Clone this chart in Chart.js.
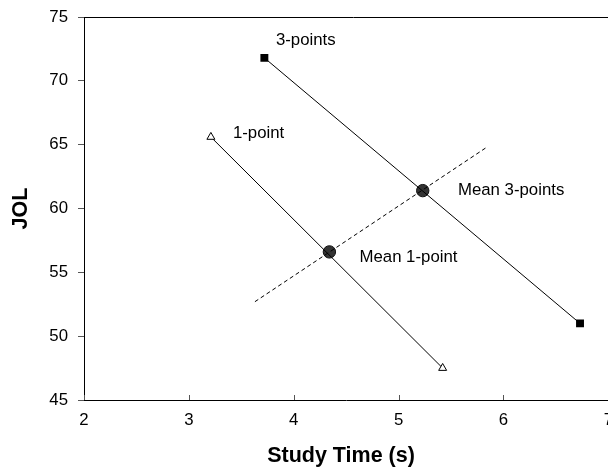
<!DOCTYPE html>
<html>
<head>
<meta charset="utf-8">
<script src="https://cdn.jsdelivr.net/npm/chart.js@4.4.1/dist/chart.umd.min.js"></script>
<style>
    html, body { margin: 0; padding: 0; background: #fff; overflow: hidden; }
    #wrap { width: 623px; height: 469px; position: relative; }
</style>
</head>
<body>
<div id="wrap"><canvas id="jolChart"></canvas></div>
<script>
// values
const onePoint = [{ x: 3.21, y: 65.6 }, { x: 5.42, y: 47.5 }];
const threePoints = [{ x: 3.72, y: 71.8 }, { x: 6.73, y: 51.0 }];
const meanLine = [{ x: 3.63, y: 52.7 }, { x: 5.85, y: 64.85 }];
const meanPoints = [{ x: 4.34, y: 56.6 }, { x: 5.23, y: 61.4 }];

const xTicks = [2, 3, 4, 5, 6, 7];
const yTicks = [45, 50, 55, 60, 65, 70, 75];

// text labels, anchored in data units (left edge, middle)
const noteText = ['3-points', '1-point', 'Mean 3-points', 'Mean 1-point'];
const noteX = [3.83, 3.42, 5.566, 4.627];
const noteY = [73.2, 65.9, 61.4, 56.2];

const FONT = '"Liberation Sans", Arial, sans-serif';

// inner x ticks, top frame line and the text notes
const extrasPlugin = {
    id: 'extras',
    afterDraw(chart) {
        const { ctx, chartArea, scales } = chart;
        const xs = scales.x, ys = scales.y;
        ctx.save();
        ctx.strokeStyle = '#000';
        ctx.lineWidth = 1;
        ctx.beginPath();
        ctx.moveTo(chartArea.left, Math.round(chartArea.top) + 0.5);
        ctx.lineTo(chart.width, Math.round(chartArea.top) + 0.5);
        ctx.stroke();

        ctx.strokeStyle = '#555';
        xTicks.forEach(v => {
            const px = Math.round(xs.getPixelForValue(v)) + 0.5;
            ctx.beginPath();
            ctx.moveTo(px, chartArea.bottom);
            ctx.lineTo(px, chartArea.bottom - 5);
            ctx.stroke();
        });

        ctx.fillStyle = '#000';
        ctx.font = '16.8px ' + FONT;
        ctx.textAlign = 'left';
        ctx.textBaseline = 'middle';
        noteText.forEach((t, i) => {
            ctx.fillText(t, xs.getPixelForValue(noteX[i]), ys.getPixelForValue(noteY[i]));
        });

        // x axis title, centred a little left of the (clipped) plot area as in the figure
        ctx.font = 'bold 21.5px ' + FONT;
        ctx.textAlign = 'center';
        ctx.fillText('Study Time (s)', 341, chart.height - 12.9);
        ctx.restore();
    }
};

const ctx = document.getElementById('jolChart').getContext('2d');
new Chart(ctx, {
    type: 'scatter',
    data: {
        datasets: [
            {
                data: meanLine,
                showLine: true,
                borderColor: '#000',
                borderWidth: 1,
                borderDash: [4, 3],
                pointRadius: 0
            },
            {
                data: onePoint,
                showLine: true,
                borderColor: '#000',
                borderWidth: 1,
                pointStyle: 'triangle',
                pointRadius: 4.6,
                pointBackgroundColor: '#fff',
                pointBorderColor: '#000',
                pointBorderWidth: 1
            },
            {
                data: threePoints,
                showLine: true,
                borderColor: '#000',
                borderWidth: 1,
                pointStyle: 'rect',
                pointRadius: 5.6,
                pointBackgroundColor: '#000',
                pointBorderColor: '#000',
                pointBorderWidth: 0
            },
            {
                data: meanPoints,
                showLine: false,
                pointStyle: 'circle',
                pointRadius: 6.2,
                pointBackgroundColor: '#333',
                pointBorderColor: '#111',
                pointBorderWidth: 1
            }
        ]
    },
    options: {
        responsive: true,
        maintainAspectRatio: false,
        animation: false,
        layout: { padding: { top: 17, right: 0, left: 0, bottom: 0 } },
        plugins: {
            legend: { display: false },
            tooltip: { enabled: false }
        },
        scales: {
            x: {
                type: 'linear',
                min: 2,
                max: 7,
                afterBuildTicks: s => { s.ticks = xTicks.map(v => ({ value: v })); },
                afterFit: s => { s.height = 69; },
                grid: { display: true, drawOnChartArea: false, drawTicks: false },
                border: { color: '#000', width: 1 },
                ticks: { padding: 10, color: '#000', font: { family: FONT, size: 16.8 } },
                title: { display: false }
            },
            y: {
                type: 'linear',
                min: 45,
                max: 75,
                afterBuildTicks: s => { s.ticks = yTicks.map(v => ({ value: v })); },
                afterFit: s => { s.width = 84; s.paddingTop = 0; s.paddingBottom = 0; },
                grid: { display: true, drawOnChartArea: false, drawTicks: true, tickLength: 6, color: '#555' },
                border: { color: '#000', width: 1 },
                ticks: { padding: 10, color: '#000', font: { family: FONT, size: 16.8 } },
                title: {
                    display: true,
                    text: 'JOL',
                    color: '#000',
                    padding: { top: 8, bottom: 0 },
                    font: { family: FONT, size: 21.5, weight: 'bold', lineHeight: 1.2 }
                }
            }
        }
    },
    plugins: [extrasPlugin]
});
</script>
</body>
</html>
